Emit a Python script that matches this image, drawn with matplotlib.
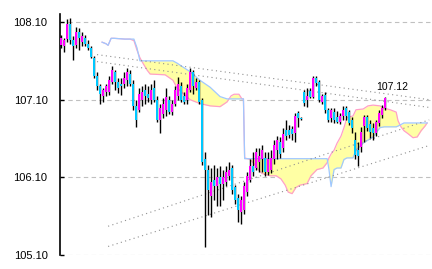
import matplotlib
matplotlib.use("Agg")
import matplotlib.pyplot as plt
from matplotlib import font_manager
import numpy as np

# --- candle data ---
opens = [107.80, 107.79, 107.88, 108.07, 107.87, 107.80, 107.97, 107.84, 107.89, 107.82,
         107.77, 107.64, 107.41, 107.28, 107.15, 107.20, 107.20, 107.33, 107.46, 107.33,
         107.30, 107.30, 107.35, 107.43, 107.30, 107.02, 106.97, 107.10, 107.23, 107.17,
         107.10, 107.25, 107.10, 106.84, 106.92, 106.97, 107.10, 106.94, 107.05, 107.15,
         107.28, 107.15, 107.10, 107.23, 107.46, 107.25, 107.33, 107.10, 106.33, 106.20,
         105.86, 106.07, 105.99, 106.10, 106.02, 106.04, 106.12, 106.22, 105.97, 105.84,
         105.66, 105.68, 105.91, 106.07, 106.25, 106.22, 106.30, 106.33, 106.35, 106.17,
         106.20, 106.33, 106.45, 106.56, 106.48, 106.71, 106.71, 106.72, 106.67, 106.93,
         106.87, 107.20, 107.10, 107.21, 107.14, 107.38, 107.33, 107.07, 107.16, 106.97,
         106.87, 106.94, 106.88, 106.81, 106.89, 106.99, 106.94, 106.84, 106.58, 106.45,
         106.49, 106.76, 106.88, 106.79, 106.74, 106.67, 106.80, 106.90, 106.99]
closes = [107.89, 107.87, 108.07, 107.87, 107.79, 107.97, 107.89, 107.92, 107.82, 107.77,
          107.65, 107.41, 107.28, 107.17, 107.23, 107.28, 107.35, 107.48, 107.33, 107.25,
          107.28, 107.38, 107.46, 107.30, 107.02, 106.84, 107.17, 107.20, 107.15, 107.12,
          107.23, 107.10, 106.84, 106.99, 107.05, 107.14, 106.94, 107.05, 107.23, 107.30,
          107.10, 107.07, 107.25, 107.46, 107.28, 107.33, 107.07, 106.30, 106.20, 105.94,
          106.04, 105.99, 106.10, 106.02, 106.10, 106.17, 106.20, 105.94, 105.81, 105.68,
          105.81, 105.99, 106.12, 106.25, 106.17, 106.43, 106.38, 106.45, 106.17, 106.33,
          106.35, 106.51, 106.58, 106.40, 106.66, 106.63, 106.65, 106.66, 106.89, 106.87,
          106.85, 107.06, 107.15, 107.14, 107.38, 107.32, 107.10, 107.15, 106.97, 106.84,
          106.97, 106.84, 106.81, 106.89, 106.97, 106.89, 106.80, 106.74, 106.39, 106.38,
          106.69, 106.88, 106.74, 106.69, 106.67, 106.81, 106.93, 106.99, 107.12]
highs = [107.93, 107.89, 108.14, 108.15, 107.92, 108.04, 108.02, 107.97, 107.93, 107.87,
         107.79, 107.66, 107.46, 107.30, 107.25, 107.30, 107.41, 107.53, 107.48, 107.38,
         107.38, 107.46, 107.51, 107.48, 107.35, 107.10, 107.25, 107.28, 107.30, 107.28,
         107.30, 107.35, 107.15, 107.05, 107.12, 107.25, 107.15, 107.10, 107.28, 107.39,
         107.33, 107.20, 107.30, 107.51, 107.48, 107.38, 107.35, 107.12, 106.42, 106.26,
         106.22, 106.26, 106.22, 106.25, 106.20, 106.25, 106.30, 106.26, 106.00, 105.89,
         105.86, 106.04, 106.17, 106.33, 106.42, 106.48, 106.48, 106.52, 106.42, 106.43,
         106.45, 106.58, 106.63, 106.62, 106.74, 106.84, 106.78, 106.76, 106.93, 106.96,
         106.88, 107.23, 107.25, 107.25, 107.41, 107.41, 107.35, 107.17, 107.20, 106.99,
         106.99, 106.99, 106.96, 106.93, 107.02, 107.02, 106.97, 106.88, 106.69, 106.56,
         106.75, 106.90, 106.90, 106.84, 106.80, 106.84, 106.97, 107.03, 107.14]
lows = [107.77, 107.71, 107.84, 107.82, 107.61, 107.77, 107.74, 107.79, 107.79, 107.74,
        107.64, 107.38, 107.23, 107.05, 107.07, 107.15, 107.16, 107.30, 107.23, 107.19,
        107.16, 107.25, 107.28, 107.28, 106.97, 106.75, 106.94, 107.02, 107.05, 107.07,
        107.05, 107.07, 106.81, 106.67, 106.87, 106.89, 106.92, 106.90, 107.02, 107.10,
        107.07, 107.05, 107.05, 107.20, 107.17, 107.23, 107.05, 106.26, 105.20, 105.62,
        105.59, 105.81, 105.73, 105.73, 105.81, 105.99, 106.07, 105.89, 105.76, 105.53,
        105.50, 105.63, 105.86, 106.04, 106.12, 106.20, 106.17, 106.17, 106.12, 106.13,
        106.15, 106.27, 106.33, 106.35, 106.43, 106.58, 106.61, 106.58, 106.56, 106.75,
        106.84, 107.02, 107.01, 107.12, 107.12, 107.28, 107.07, 107.05, 106.93, 106.81,
        106.81, 106.80, 106.80, 106.79, 106.84, 106.84, 106.78, 106.67, 106.33, 106.24,
        106.42, 106.56, 106.70, 106.61, 106.58, 106.63, 106.76, 106.87, 106.97]

# --- ichimoku cloud (x in candle index) ---
cloud_x = [13.7, 15.0, 15.7, 16.7, 17.7, 21.3, 23.0, 24.3, 25.3, 26.3, 27.3, 28.7, 29.7,
           34.7, 37.3, 38.7, 43.0, 46.3, 49.7, 53.0, 55.3, 56.7, 57.7, 59.3, 60.3, 60.8,
           61.2, 63.0, 64.7, 65.7, 67.0, 69.7, 71.7, 73.3, 74.7, 75.7, 77.0, 78.3, 79.7,
           82.0, 83.3, 85.3, 87.3, 88.7, 89.3, 90.0, 91.0, 92.0, 93.3, 94.3, 95.3, 97.3,
           98.3, 100.7, 102.3, 104.0, 106.3, 107.7, 109.7, 111.7, 112.3, 113.3, 114.3,
           115.7, 117.3, 118.7, 120.0, 121.3, 122.0]
span_a = [107.84, 107.82, 107.80, 107.89, 107.89, 107.88, 107.88, 107.86, 107.74, 107.64,
          107.57, 107.48, 107.43, 107.42, 107.35, 107.25, 107.10, 107.05, 107.02, 107.01,
          107.07, 107.15, 107.17, 107.17, 107.11, 107.11, 106.35, 106.33, 106.26, 106.20,
          106.15, 106.12, 106.12, 106.08, 106.00, 105.91, 105.89, 105.97, 106.00, 106.02,
          106.12, 106.20, 106.22, 106.29, 106.35, 106.40, 106.45, 106.54, 106.63, 106.74,
          106.87, 106.89, 106.97, 106.98, 107.02, 107.03, 107.02, 106.99, 106.97, 106.94,
          106.83, 106.75, 106.70, 106.66, 106.61, 106.62, 106.70, 106.76, 106.80]
span_b = [107.84, 107.82, 107.80, 107.89, 107.89, 107.88, 107.88, 107.88, 107.77, 107.60,
          107.60, 107.60, 107.60, 107.60, 107.60, 107.57, 107.46, 107.35, 107.26, 107.14,
          107.11, 107.11, 107.11, 107.11, 107.11, 107.11, 106.34, 106.34, 106.34, 106.34,
          106.34, 106.34, 106.34, 106.34, 106.34, 106.34, 106.34, 106.34, 106.34, 106.34,
          106.34, 106.34, 106.34, 106.34, 106.20, 105.98, 106.20, 106.22, 106.22, 106.33,
          106.35, 106.35, 106.45, 106.54, 106.58, 106.62, 106.74, 106.75, 106.75, 106.75,
          106.76, 106.78, 106.80, 106.80, 106.80, 106.80, 106.80, 106.80, 106.80]

# --- dotted trend lines: (x0, y0, x1, y1) ---
trend_lines = [
    (12.0, 107.68, 122.7, 107.10),
    (12.0, 107.59, 122.7, 107.00),
    (15.7, 105.47, 122.7, 106.84),
    (15.7, 105.21, 122.7, 106.51),
]

y_ticks = [105.10, 106.10, 107.10, 108.10]
last_price = 107.12

# narrow font for the price axis if we have one
installed = {f.name for f in font_manager.fontManager.ttflist}
if "Liberation Sans Narrow" in installed:
    label_font, label_size = "Liberation Sans Narrow", 9
else:
    label_font, label_size = "Liberation Sans", 8

fig = plt.figure(figsize=(4.32, 2.69), dpi=100)
ax = fig.add_axes([60 / 432, 14 / 269, 371 / 432, 241 / 269])

# cloud
ax.fill_between(cloud_x, span_a, span_b, color="#ffffa4", linewidth=0, zorder=1)
ax.plot(cloud_x, span_a, color="#ffa0c8", lw=0.9, zorder=2)
ax.plot(cloud_x, span_b, color="#a0c8ff", lw=0.9, zorder=2)

# grid
for t in y_ticks:
    ax.axhline(t, color="#c0c0c0", lw=0.8, ls=(0, (4, 3)), zorder=0)

# trend lines
for x0, y0, x1, y1 in trend_lines:
    ax.plot([x0, x1], [y0, y1], color="#909090", lw=0.8, ls=(0, (1, 3)), zorder=2)

# candles
idx = np.arange(len(closes))
o = np.array(opens)
c = np.array(closes)
ax.vlines(idx, lows, highs, color="black", lw=1.0, zorder=3)
up = c >= o
body_col = np.where(up, "#ff00ff", "#00c8ff")
ax.bar(idx, np.maximum(np.abs(c - o), 0.01), bottom=np.minimum(o, c), width=0.85,
       color=body_col, linewidth=0, zorder=4)

ax.text(idx[-1] + 2.5, last_price + 0.14, f"{last_price:.2f}", ha="center", va="center",
        fontsize=7.5, family=["Liberation Sans", "DejaVu Sans"], zorder=5)

ax.set_xlim(-0.33, 123.3)
ax.set_ylim(105.10, 108.203)
ax.set_yticks(y_ticks)
ax.set_yticklabels([f"{t:.2f}" for t in y_ticks], family=label_font, fontsize=label_size)
ax.set_xticks([])
ax.tick_params(axis="y", direction="in", length=3, width=1, pad=9)
for s in ["top", "right", "bottom"]:
    ax.spines[s].set_visible(False)
ax.spines["left"].set_linewidth(1.2)
ax.patch.set_alpha(0)

fig.savefig("out.png", dpi=100)
